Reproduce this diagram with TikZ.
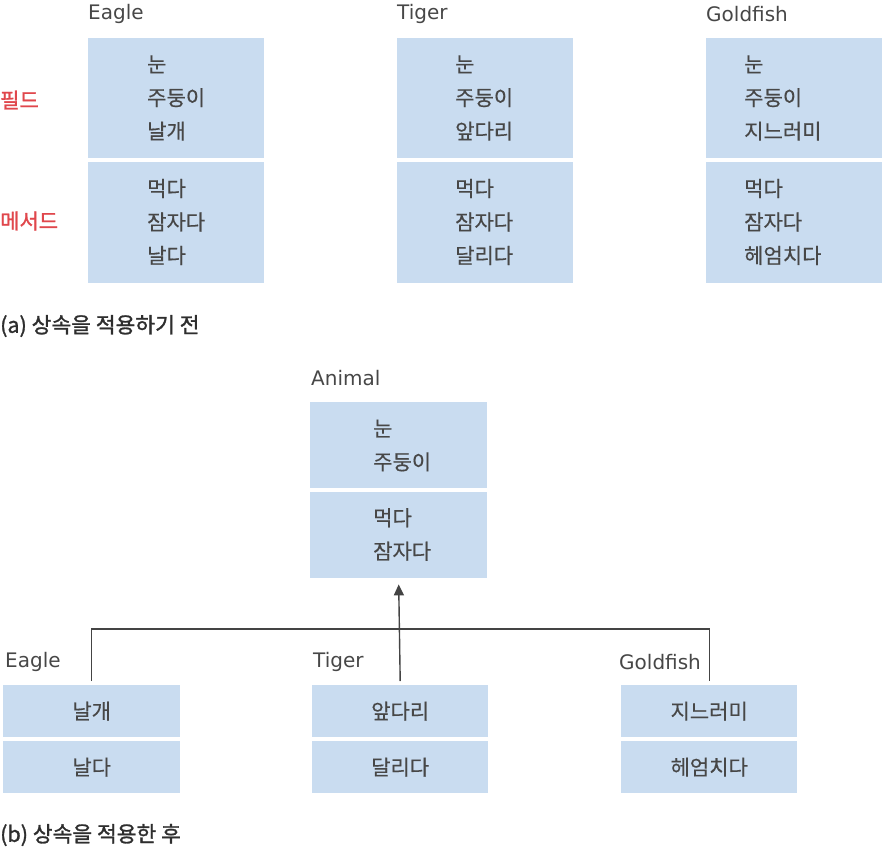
\documentclass[tikz,border=0pt]{standalone}
\usepackage{fontspec}
\setmainfont{DejaVu Sans}
\newfontfamily\kr[FakeBold=0.4]{Noto Sans CJK KR}
\newfontfamily\krb[FakeBold=1.3]{Noto Sans CJK KR}
\usetikzlibrary{arrows.meta}
\definecolor{boxblue}{HTML}{C9DCF0}
\definecolor{txtgray}{HTML}{474747}
\definecolor{lblred}{HTML}{E0474C}
\definecolor{linegray}{HTML}{444444}
\begin{document}
\begin{tikzpicture}[x=1pt,y=-1pt,
  box/.style={fill=boxblue,draw=none,inner sep=0pt,anchor=north west},
  txt/.style={text=txtgray,inner sep=0pt,anchor=west,align=left,font=\kr\fontsize{21}{33.5}\selectfont},
  ctxt/.style={text=txtgray,inner sep=0pt,font=\kr\fontsize{21}{33.5}\selectfont},
  lbl/.style={text=txtgray,inner sep=0pt,anchor=west,font=\fontsize{20}{22}\selectfont},
  redlbl/.style={text=lblred,inner sep=0pt,anchor=west,font=\krb\fontsize{21}{22}\selectfont},
  captxt/.style={text=black!82,inner sep=0pt,anchor=west,font=\krb\fontsize{21.5}{22}\selectfont},
  conn/.style={draw=linegray,line width=1.4pt},
]
\useasboundingbox (0,0) rectangle (884,851);

% ---------- (a) ----------
\node[lbl] (la1) at (88,14) {Eagle};
\node[lbl] (la2) at (397,14) {Tiger};
\node[lbl] (la3) at (706,14) {Goldfish};

\node[redlbl] (fieldlbl) at (0,100) {필드};
\node[redlbl] (methlbl) at (0,221) {메서드};

\node[box,minimum width=176pt,minimum height=120pt] (aef) at (88,38) {};
\node[box,minimum width=176pt,minimum height=121pt] (aem) at (88,162) {};
\node[box,minimum width=176pt,minimum height=120pt] (atf) at (397,38) {};
\node[box,minimum width=176pt,minimum height=121pt] (atm) at (397,162) {};
\node[box,minimum width=176pt,minimum height=120pt] (agf) at (706,38) {};
\node[box,minimum width=176pt,minimum height=121pt] (agm) at (706,162) {};

\node[txt] (aeft) at (147,98) {눈\\주둥이\\날개};
\node[txt] (aemt) at (147,222) {먹다\\잠자다\\날다};
\node[txt] (atft) at (455,98) {눈\\주둥이\\앞다리};
\node[txt] (atmt) at (455,222) {먹다\\잠자다\\달리다};
\node[txt] (agft) at (744,98) {눈\\주둥이\\지느러미};
\node[txt] (agmt) at (744,222) {먹다\\잠자다\\헤엄치다};

\node[captxt] (capa) at (0,326) {(a) 상속을 적용하기 전};

% ---------- (b) ----------
\node[lbl] (lanim) at (311,378) {Animal};
\node[box,minimum width=177pt,minimum height=86pt] (anf) at (310,402) {};
\node[box,minimum width=177pt,minimum height=86pt] (anm) at (310,492) {};
\node[txt] (anft) at (373,445.5) {눈\\주둥이};
\node[txt] (anmt) at (373,534.5) {먹다\\잠자다};

\node[lbl] (lb1) at (5,662) {Eagle};
\node[lbl] (lb2) at (313,662) {Tiger};
\node[lbl] (lb3) at (619,662) {Goldfish};

\node[box,minimum width=177pt,minimum height=52pt] (bef) at (3,685) {};
\node[box,minimum width=177pt,minimum height=52pt] (bem) at (3,741) {};
\node[box,minimum width=176pt,minimum height=52pt] (btf) at (312,685) {};
\node[box,minimum width=176pt,minimum height=52pt] (btm) at (312,741) {};
\node[box,minimum width=176pt,minimum height=52pt] (bgf) at (621,685) {};
\node[box,minimum width=176pt,minimum height=52pt] (bgm) at (621,741) {};

\node[ctxt] at (bef.center) (beft) {날개};
\node[ctxt] at (bem.center) (bemt) {날다};
\node[ctxt] at (btf.center) (btft) {앞다리};
\node[ctxt] at (btm.center) (btmt) {달리다};
\node[ctxt] at (bgf.center) (bgft) {지느러미};
\node[ctxt] at (bgm.center) (bgmt) {헤엄치다};

\coordinate (junc) at (400,629);
\draw[conn] ([yshift=4pt]bef.north) |- (junc) -| ([yshift=4pt]bgf.north);
\draw[conn,-{Triangle[length=11pt,width=10pt]}] ([yshift=4pt]btf.north) -- ([yshift=-6pt]anm.south);

\node[captxt] (capb) at (0,835) {(b) 상속을 적용한 후};
\end{tikzpicture}
\end{document}
